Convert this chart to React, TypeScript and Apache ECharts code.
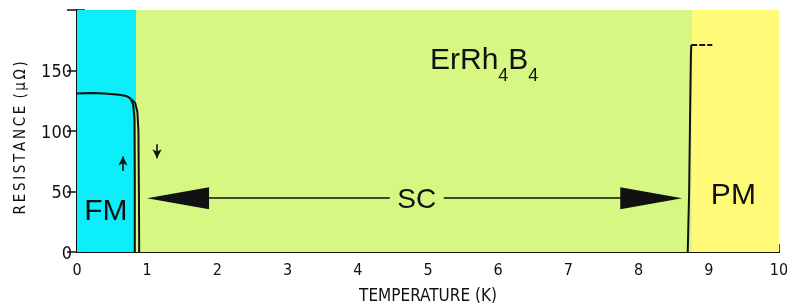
import React, { useEffect, useRef } from "react";
import * as echarts from "echarts";

// ---- data ----
const xTicks = [0, 1, 2, 3, 4, 5, 6, 7, 8, 9, 10];
const yTicks = [0, 50, 100, 150];

// FM branch (warming, lower T) and (cooling, higher T)
const fmWarmT = [0, 0.2, 0.4, 0.6, 0.7, 0.76, 0.8, 0.818, 0.823, 0.823];
const fmWarmR = [131, 131.5, 131, 130, 129, 127, 122, 110, 60, 0];
const fmCoolT = [0.78, 0.83, 0.86, 0.875, 0.882, 0.886];
const fmCoolR = [126, 123, 116, 100, 50, 0];
// SC -> PM transition
const pmT = [8.7, 8.72, 8.735, 8.745, 8.75];
const pmR = [0, 50, 120, 162, 171];
const pmTopT = [8.75, 9.05];
const pmTopR = [171, 171];

// phase regions
const phaseNames = ["FM", "SC", "PM"];
const phaseStart = [0, 0.84, 8.76];
const phaseEnd = [0.84, 8.76, 10];
const phaseColors = ["#0CEFFA", "#D6F882", "#FFFA78"];

// annotation positions (data coordinates)
const fmLabel = [0.41, 35.5];
const pmLabel = [9.35, 48.5];
const scLabel = [4.84, 44.5];
const formulaLabel = [5.8, 154];
const scArrowStart = [1.44, 44.5];
const scArrowEnd = [8.18, 44.5];
const upArrow = [[0.655, 67], [0.655, 79]];
const downArrow = [[1.14, 89], [1.14, 77.5]];

const zip = (a: number[], b: number[]) => a.map((v, i) => [v, b[i]]);

const App: React.FC = () => {
  const ref = useRef<HTMLDivElement>(null);

  useEffect(() => {
    if (!ref.current) return;
    const chart = echarts.init(ref.current, undefined, { renderer: "svg" });
    const axisFont = "'Liberation Sans Narrow', 'DejaVu Sans Condensed', sans-serif";
    const annFont = "'Liberation Sans', Arial, sans-serif";
    const ink = "#111111";

    const textPoint = (coord: number[], text: string, size: number) => ({
      coord,
      symbol: "rect",
      symbolSize: 1,
      itemStyle: { color: "rgba(0,0,0,0)" },
      label: {
        show: true,
        position: "inside",
        formatter: text,
        color: ink,
        fontSize: size,
        fontFamily: annFont,
      },
    });

    chart.setOption({
      animation: false,
      grid: { left: 77, right: 8, top: 10, bottom: 56, containLabel: false, outerBoundsMode: "none" },
      xAxis: [
        {
          type: "value",
          min: 0,
          max: 10,
          interval: 1,
          position: "bottom",
          name: "TEMPERATURE (K)",
          nameLocation: "middle",
          nameGap: 34,
          nameTextStyle: { fontFamily: axisFont, fontSize: 17, color: ink },
          axisLine: { show: true, lineStyle: { color: ink, width: 2 } },
          axisTick: { show: true, inside: true, length: 8, lineStyle: { color: ink, width: 1.5 } },
          axisLabel: {
            margin: 9,
            fontFamily: axisFont,
            fontSize: 16,
            color: ink,
            formatter: (v: number) => (xTicks.includes(v) ? String(v) : ""),
          },
          splitLine: { show: false },
        },
        {
          type: "value",
          min: 0,
          max: 10,
          position: "top",
          axisLine: { show: true, lineStyle: { color: ink, width: 2 } },
          axisTick: { show: false },
          axisLabel: { show: false },
          splitLine: { show: false },
        },
      ],
      yAxis: [
        {
          type: "value",
          min: 0,
          max: 200,
          interval: 50,
          position: "left",
          name:
            "R\u2009E\u2009S\u2009I\u2009S\u2009T\u2009A\u2009N\u2009C\u2009E\u2009 (\u2009\u03bc\u2009\u03a9\u2009)\u2003",
          nameLocation: "middle",
          nameGap: 50,
          nameTextStyle: { fontFamily: axisFont, fontSize: 15, color: ink },
          axisLine: { show: true, lineStyle: { color: ink, width: 2 } },
          axisTick: { show: true, inside: true, length: 8, lineStyle: { color: ink, width: 1.5 } },
          axisLabel: {
            margin: 5,
            fontFamily: axisFont,
            fontSize: 18,
            color: ink,
            formatter: (v: number) => (yTicks.includes(v) ? String(v) : ""),
          },
          splitLine: { show: false },
        },
        {
          type: "value",
          min: 0,
          max: 200,
          interval: 50,
          position: "right",
          axisLine: { show: true, lineStyle: { color: ink, width: 2 } },
          axisTick: { show: true, inside: true, length: 10, lineStyle: { color: ink, width: 1.5 } },
          axisLabel: { show: false },
          splitLine: { show: false },
        },
      ],
      series: [
        {
          name: "regions",
          type: "line",
          data: [],
          silent: true,
          markArea: {
            silent: true,
            data: phaseNames.map((n, i) => [
              { xAxis: phaseStart[i], yAxis: 0, itemStyle: { color: phaseColors[i] } },
              { xAxis: phaseEnd[i], yAxis: 200 },
            ]),
          },
        },
        {
          name: "FM warming",
          type: "line",
          data: zip(fmWarmT, fmWarmR),
          showSymbol: false,
          lineStyle: { color: ink, width: 2 },
          z: 5,
        },
        {
          name: "FM cooling",
          type: "line",
          data: zip(fmCoolT, fmCoolR),
          showSymbol: false,
          lineStyle: { color: ink, width: 2 },
          z: 5,
        },
        {
          name: "PM",
          type: "line",
          data: zip(pmT, pmR),
          showSymbol: false,
          lineStyle: { color: ink, width: 2 },
          z: 5,
        },
        {
          name: "PM top",
          type: "line",
          data: zip(pmTopT, pmTopR),
          showSymbol: false,
          lineStyle: { color: ink, width: 2, type: [6, 2] },
          z: 5,
        },
        {
          name: "annotations",
          type: "line",
          data: [],
          z: 6,
          markLine: {
            silent: true,
            animation: false,
            label: { show: false },
            lineStyle: { color: ink, width: 1.6, type: "solid" },
            data: [
              [
                { coord: scArrowStart, symbol: "triangle", symbolSize: [22, 62] },
                { coord: scArrowEnd, symbol: "triangle", symbolSize: [22, 62] },
              ],
              [
                { coord: upArrow[0], symbol: "none" },
                { coord: upArrow[1], symbol: "arrow", symbolSize: [7, 9] },
              ],
              [
                { coord: downArrow[0], symbol: "none" },
                { coord: downArrow[1], symbol: "arrow", symbolSize: [7, 9] },
              ],
            ],
          },
          markPoint: {
            silent: true,
            animation: false,
            data: [
              textPoint(fmLabel, "FM", 30),
              textPoint(pmLabel, "PM", 30),
              {
                coord: scLabel,
                symbol: "rect",
                symbolSize: [54, 22],
                itemStyle: { color: phaseColors[1] },
                label: {
                  show: true,
                  position: "inside",
                  formatter: "SC",
                  color: ink,
                  fontSize: 28,
                  fontFamily: annFont,
                },
              },
              {
                coord: formulaLabel,
                symbol: "rect",
                symbolSize: 1,
                itemStyle: { color: "rgba(0,0,0,0)" },
                label: {
                  show: true,
                  position: "inside",
                  formatter: "{a|ErRh}{b|4}{a|B}{b|4}",
                  rich: {
                    a: { fontSize: 30, fontFamily: annFont, color: ink, lineHeight: 30, padding: [0, 0, 14, 0] },
                    b: { fontSize: 18, fontFamily: annFont, color: ink, lineHeight: 18, padding: [22, 0, 4, 0] },
                  },
                },
              },
            ],
          },
        },
      ],
    });

    return () => chart.dispose();
  }, []);

  return (
    <div
      ref={ref}
      style={{ position: "fixed", left: 0, top: 0, width: 787, height: 308, overflow: "hidden" }}
    />
  );
};

export default App;
